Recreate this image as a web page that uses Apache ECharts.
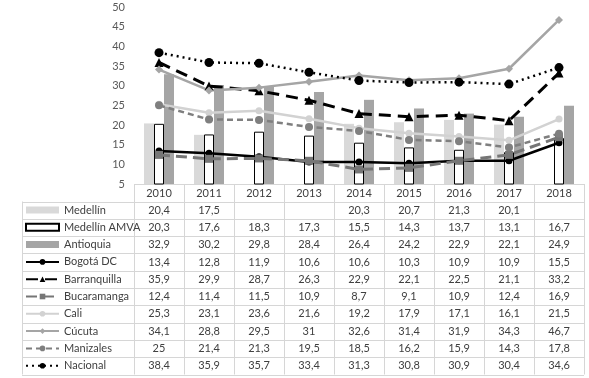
<!DOCTYPE html>
<html>
<head>
<meta charset="utf-8">
<script src="https://cdn.jsdelivr.net/npm/echarts@6.0.0/dist/echarts.min.js"></script>
<style>
    html, body { margin: 0; padding: 0; background: #fff; }
    #chart { width: 589px; height: 378px; }
</style>
</head>
<body>
<div id="chart"></div>
<script>
// datos
var years = ['2010', '2011', '2012', '2013', '2014', '2015', '2016', '2017', '2018'];
var yTicks = [5, 50, 5]; // min, max, interval

var medellin     = [20.4, 17.5, null, null, 20.3, 20.7, 21.3, 20.1, null];
var medellinAmva = [20.3, 17.6, 18.3, 17.3, 15.5, 14.3, 13.7, 13.1, 16.7];
var antioquia    = [32.9, 30.2, 29.8, 28.4, 26.4, 24.2, 22.9, 22.1, 24.9];
var bogota       = [13.4, 12.8, 11.9, 10.6, 10.6, 10.3, 10.9, 10.9, 15.5];
var barranquilla = [35.9, 29.9, 28.7, 26.3, 22.9, 22.1, 22.5, 21.1, 33.2];
var bucaramanga  = [12.4, 11.4, 11.5, 10.9, 8.7, 9.1, 10.9, 12.4, 16.9];
var cali         = [25.3, 23.1, 23.6, 21.6, 19.2, 17.9, 17.1, 16.1, 21.5];
var cucuta       = [34.1, 28.8, 29.5, 31, 32.6, 31.4, 31.9, 34.3, 46.7];
var manizales    = [25, 21.4, 21.3, 19.5, 18.5, 16.2, 15.9, 14.3, 17.8];
var nacional     = [38.4, 35.9, 35.7, 33.4, 31.3, 30.8, 30.9, 30.4, 34.6];

var names = ['Medellín', 'Medellín AMVA', 'Antioquia', 'Bogotá DC', 'Barranquilla',
             'Bucaramanga', 'Cali', 'Cúcuta', 'Manizales', 'Nacional'];
var rows = [medellin, medellinAmva, antioquia, bogota, barranquilla,
            bucaramanga, cali, cucuta, manizales, nacional];

var chart = echarts.init(document.getElementById('chart'));
var font = 'Lato, "Liberation Sans", sans-serif';
var textColor = '#404040';
var tableColor = '#d6d6d6';

function lineSeries(name, data, color, width, dash, symbol, size) {
    return {
        name: name,
        type: 'line',
        data: data,
        symbol: symbol,
        symbolSize: size,
        lineStyle: { color: color, width: width, type: dash, cap: 'butt' },
        itemStyle: { color: color },
        z: 3
    };
}

var option = {
    animation: false,
    textStyle: { fontFamily: font },
    grid: { left: 134, right: 5, top: 7, bottom: 194 },
    legend: {
        orient: 'vertical',
        left: 25,
        top: 203,
        padding: 0,
        itemWidth: 33,
        itemHeight: 7,
        itemGap: 3.3,
        selectedMode: false,
        textStyle: { fontSize: 11, color: textColor, lineHeight: 14, fontFamily: font },
        data: [
            { name: names[0], icon: 'rect' },
            { name: names[1], icon: 'rect' },
            { name: names[2], icon: 'rect' },
            names[3], names[4], names[5], names[6], names[7], names[8], names[9]
        ]
    },
    xAxis: {
        type: 'category',
        data: years,
        axisTick: { show: false },
        axisLine: { show: false },
        axisLabel: { margin: 2, fontSize: 11, color: textColor, lineHeight: 14, fontFamily: font }
    },
    yAxis: {
        type: 'value',
        min: yTicks[0],
        max: yTicks[1],
        interval: yTicks[2],
        splitLine: { show: false },
        axisLine: { show: false },
        axisTick: { show: false },
        axisLabel: { margin: 9, fontSize: 11, color: '#595959', fontFamily: font }
    },
    series: [
        { name: names[0], type: 'bar', data: medellin, barWidth: 10, barGap: '0%',
          itemStyle: { color: '#d9d9d9' } },
        { name: names[1], type: 'bar', data: medellinAmva, barWidth: 10, barGap: '0%',
          itemStyle: { color: '#ffffff', borderColor: '#000', borderWidth: 1 } },
        { name: names[2], type: 'bar', data: antioquia, barWidth: 10, barGap: '0%',
          itemStyle: { color: '#a5a5a5' } },
        lineSeries(names[3], bogota, '#000000', 2.5, 'solid', 'circle', 7),
        lineSeries(names[4], barranquilla, '#000000', 3, [12, 7], 'triangle', 9),
        lineSeries(names[5], bucaramanga, '#767676', 3, [11, 6], 'rect', 8),
        lineSeries(names[6], cali, '#d2d2d2', 2.5, 'solid', 'circle', 7),
        lineSeries(names[7], cucuta, '#a5a5a5', 2.5, 'solid', 'diamond', 8),
        lineSeries(names[8], manizales, '#7f7f7f', 2.5, [6, 4], 'circle', 8),
        lineSeries(names[9], nacional, '#000000', 2.5, [2, 4], 'circle', 9)
    ]
};
chart.setOption(option);

// tabla de datos
var c0 = chart.convertToPixel({ xAxisIndex: 0 }, years[0]);
var c1 = chart.convertToPixel({ xAxisIndex: 0 }, years[1]);
var band = c1 - c0;
var xLeft = c0 - band / 2;
var xRight = xLeft + band * years.length;
var yAxisPx = chart.convertToPixel({ yAxisIndex: 0 }, yTicks[0]);
var rowH = 17.3;
var headBottom = 201.5;
var tableBottom = headBottom + rowH * rows.length;
var tableLeft = 22;

var elements = [];
function hline(x1, x2, y) {
    elements.push({ type: 'line', silent: true,
        shape: { x1: x1, y1: Math.round(y) + 0.5, x2: x2, y2: Math.round(y) + 0.5 },
        style: { stroke: tableColor, lineWidth: 1 } });
}
function vline(x, y1, y2) {
    elements.push({ type: 'line', silent: true,
        shape: { x1: Math.round(x) + 0.5, y1: y1, x2: Math.round(x) + 0.5, y2: y2 },
        style: { stroke: tableColor, lineWidth: 1 } });
}

hline(xLeft, xRight, yAxisPx);
for (var r = 0; r <= rows.length; r++) {
    hline(tableLeft, xRight, headBottom + r * rowH);
}
vline(tableLeft, headBottom, tableBottom);
for (var j = 0; j <= years.length; j++) {
    vline(xLeft + j * band, yAxisPx, tableBottom);
}

for (var i = 0; i < rows.length; i++) {
    for (var k = 0; k < years.length; k++) {
        var v = rows[i][k];
        if (v == null) continue;
        elements.push({
            type: 'text', silent: true,
            x: chart.convertToPixel({ xAxisIndex: 0 }, years[k]),
            y: headBottom + rowH * (i + 0.5),
            style: {
                text: String(v).replace('.', ','),
                fill: textColor,
                font: '11px ' + font,
                align: 'center',
                verticalAlign: 'middle'
            }
        });
    }
}
chart.setOption({ graphic: elements });
</script>
</body>
</html>
